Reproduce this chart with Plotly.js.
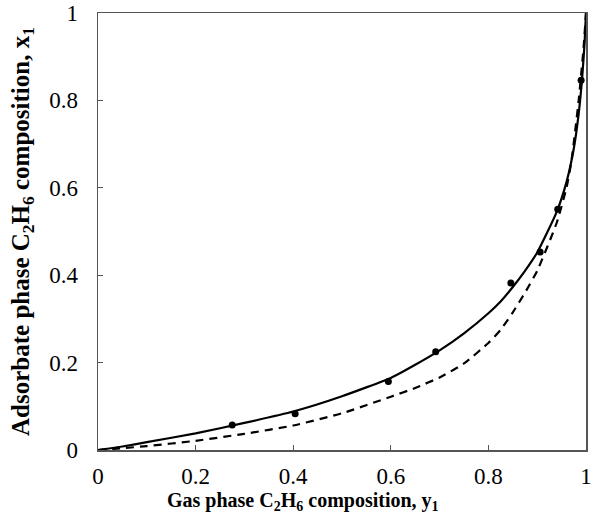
<!DOCTYPE html>
<html>
<head>
<meta charset="utf-8">
<script src="https://cdn.plot.ly/plotly-3.0.1.min.js"></script>
<style>html,body{margin:0;padding:0;background:#fff;}#chart{width:592px;height:520px;}</style>
</head>
<body>
<div id="chart"></div>
<script>
// Experimental data (gas phase y1, adsorbed phase x1)
const expY1 = [0.275, 0.404, 0.595, 0.692, 0.846, 0.906, 0.942, 0.99];
const expX1 = [0.057, 0.083, 0.157, 0.225, 0.382, 0.453, 0.551, 0.846];

// Solid model curve
const solidY1 = [0, 0.05, 0.1, 0.2, 0.3, 0.4, 0.5, 0.6, 0.65, 0.7, 0.75, 0.8, 0.825, 0.85, 0.875, 0.9, 0.94, 0.96, 0.975, 0.985, 0.992, 0.997, 1];
const solidX1 = [0, 0.008, 0.018, 0.038, 0.062, 0.088, 0.123, 0.165, 0.195, 0.228, 0.267, 0.313, 0.34, 0.373, 0.41, 0.452, 0.545, 0.613, 0.69, 0.77, 0.85, 0.93, 1];

// Dashed model curve
const dashY1 = [0, 0.05, 0.1, 0.2, 0.3, 0.4, 0.5, 0.6, 0.65, 0.7, 0.75, 0.8, 0.825, 0.85, 0.875, 0.9, 0.94, 0.96, 0.97, 0.985, 0.995, 1];
const dashX1 = [0, 0.004, 0.009, 0.021, 0.037, 0.056, 0.084, 0.122, 0.142, 0.166, 0.198, 0.245, 0.275, 0.315, 0.36, 0.41, 0.52, 0.6, 0.66, 0.8, 0.92, 1];

const xTicks = [0, 0.2, 0.4, 0.6, 0.8, 1];
const yTicks = [0, 0.2, 0.4, 0.6, 0.8, 1];

const xTitle = '<b>Gas phase C<sub>2</sub>H<sub>6</sub> composition, y<sub>1</sub></b>';
const yTitle = '<b>Adsorbate phase C<sub>2</sub>H<sub>6</sub> composition, x<sub>1</sub></b>';

const traces = [
  {x: dashY1, y: dashX1, mode: 'lines', line: {color: '#000', width: 2.2, dash: '8px,6px', shape: 'spline', smoothing: 0.5}, hoverinfo: 'skip'},
  {x: solidY1, y: solidX1, mode: 'lines', line: {color: '#000', width: 2.2, shape: 'spline', smoothing: 0.5}, hoverinfo: 'skip'},
  {x: expY1, y: expX1, mode: 'markers', marker: {color: '#000', size: 7, symbol: 'circle'}}
];

const font = {family: '"Liberation Serif", "Times New Roman", serif', color: '#000'};
const axisCommon = {
  range: [0, 1],
  showgrid: false,
  zeroline: false,
  showline: true,
  linecolor: '#555',
  linewidth: 1.5,
  mirror: true,
  ticks: 'inside',
  ticklen: 5,
  tickwidth: 1,
  tickcolor: '#555',
  tickmode: 'array',
  ticklabeloverflow: 'allow',
  tickfont: Object.assign({size: 23}, font)
};

const layout = {
  width: 592, height: 520,
  margin: {l: 98, r: 6, t: 13, b: 70},
  showlegend: false,
  paper_bgcolor: '#fff', plot_bgcolor: '#fff',
  xaxis: Object.assign({}, axisCommon, {
    tickvals: xTicks, ticktext: xTicks.map(String),
    ticklabelstandoff: 5
  }),
  yaxis: Object.assign({}, axisCommon, {
    tickvals: yTicks, ticktext: yTicks.map(String),
    ticklabelstandoff: 14,
    title: {text: yTitle, font: Object.assign({size: 25}, font), standoff: 12}
  }),
  annotations: [{
    text: xTitle, xref: 'paper', yref: 'paper', x: 0.42, y: -0.118,
    xanchor: 'center', yanchor: 'middle', showarrow: false,
    font: Object.assign({size: 20}, font)
  }]
};

Plotly.newPlot('chart', traces, layout, {displayModeBar: false, staticPlot: true});
</script>
</body>
</html>
